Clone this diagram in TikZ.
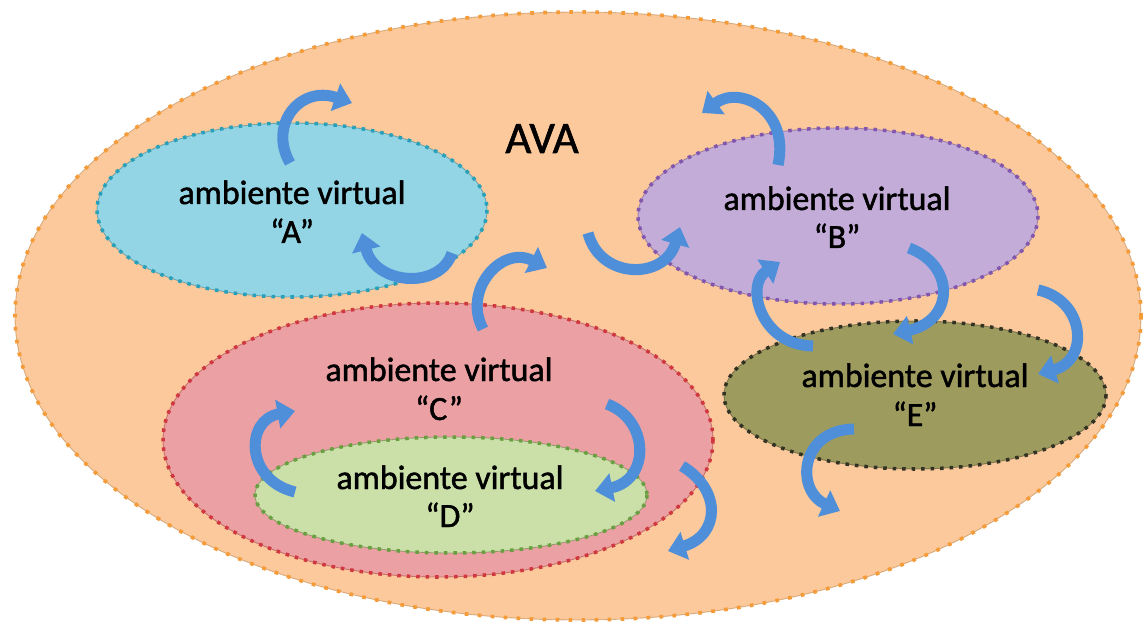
\documentclass[tikz,border=0pt]{standalone}
\usepackage{fontspec}
\setmainfont{Carlito}
\newfontfamily\envfont{Carlito}[FakeBold=1.4]
\usetikzlibrary{arrows.meta}
\definecolor{outerfill}{RGB}{251,201,156}
\definecolor{outerdot}{RGB}{245,155,55}
\definecolor{afill}{RGB}{147,213,228}
\definecolor{adot}{RGB}{40,160,185}
\definecolor{bfill}{RGB}{195,173,216}
\definecolor{bdot}{RGB}{130,85,175}
\definecolor{cfill}{RGB}{235,160,163}
\definecolor{cdot}{RGB}{208,55,62}
\definecolor{dfill}{RGB}{203,224,169}
\definecolor{ddot}{RGB}{105,158,65}
\definecolor{efill}{RGB}{158,155,94}
\definecolor{edot}{RGB}{50,50,35}
\definecolor{arrowblue}{RGB}{79,143,217}
\tikzset{
  edgeline/.style={line width=0.5pt, draw opacity=0.45},
  envdots/.style={line width=2pt, line cap=butt, dash pattern=on 2pt off 3.4pt},
  outerdots/.style={line width=2.1pt, line cap=butt, dash pattern=on 2.1pt off 5.3pt},
  envtext/.style={font=\envfont\fontsize{19.3}{22}\selectfont, anchor=base, inner sep=0pt, text=black},
  bluearrow/.style={draw=arrowblue, line width=6.3pt, line cap=butt,
    -{Triangle[width=16pt,length=10pt]}},
}
\begin{document}
\begin{tikzpicture}[x=0.02cm,y=-0.02cm]
\useasboundingbox (0,0) rectangle (1146,628);
% outer AVA
\fill[outerfill] (578,316) ellipse [x radius=563, y radius=304];
\draw[outerdot!70!black, edgeline] (578,316) ellipse [x radius=563, y radius=304];
\draw[outerdot, outerdots] (578,316) ellipse [x radius=563, y radius=304];
% A
\fill[afill] (292,210) ellipse [x radius=195, y radius=87];
\draw[adot!70!black, edgeline] (292,210) ellipse [x radius=195, y radius=87];
\draw[adot, envdots] (292,210) ellipse [x radius=195, y radius=87];
% B
\fill[bfill] (838,216) ellipse [x radius=200, y radius=88];
\draw[bdot!70!black, edgeline] (838,216) ellipse [x radius=200, y radius=88];
\draw[bdot, envdots] (838,216) ellipse [x radius=200, y radius=88];
% C
\fill[cfill] (438,440) ellipse [x radius=275, y radius=137];
\draw[cdot!70!black, edgeline] (438,440) ellipse [x radius=275, y radius=137];
\draw[cdot, envdots] (438,440) ellipse [x radius=275, y radius=137];
% D
\fill[dfill] (451,495) ellipse [x radius=196, y radius=58];
\draw[ddot!70!black, edgeline] (451,495) ellipse [x radius=196, y radius=58];
\draw[ddot, envdots] (451,495) ellipse [x radius=196, y radius=58];
% E
\fill[efill] (915,395) ellipse [x radius=191, y radius=74];
\draw[edot, edgeline] (915,395) ellipse [x radius=191, y radius=74];
\draw[edot, envdots] (915,395) ellipse [x radius=191, y radius=74];
% texts
\node[font=\envfont\fontsize{25.5}{30}\selectfont, anchor=base, inner sep=0pt] (ava) at (542,153) {AVA};
\node[envtext] (ta1) at (292,204) {ambiente virtual};
\node[envtext] (ta2) at (292,243) {“A”};
\node[envtext] (tb1) at (837,210) {ambiente virtual};
\node[envtext] (tb2) at (837,248) {“B”};
\node[envtext] (tc1) at (439,381) {ambiente virtual};
\node[envtext] (tc2) at (439,420) {“C”};
\node[envtext] (td1) at (450,489) {ambiente virtual};
\node[envtext] (td2) at (450,527) {“D”};
\node[envtext] (te1) at (915,387) {ambiente virtual};
\node[envtext] (te2) at (915,426) {“E”};
% arrows
\draw[bluearrow] (290,163) .. controls (268,125) and (300,85) .. (352,103);
\draw[bluearrow] (452,253) .. controls (440,290) and (375,285) .. (362,233);
\draw[bluearrow] (483,329) .. controls (462,290) and (502,245) .. (547,268);
\draw[bluearrow] (588,233) .. controls (600,280) and (665,280) .. (680,227);
\draw[bluearrow] (778,165) .. controls (790,110) and (740,85) .. (702,113);
\draw[bluearrow] (295,492) .. controls (245,480) and (245,420) .. (295,411);
\draw[bluearrow] (607,404) .. controls (650,420) and (650,480) .. (595,491);
\draw[bluearrow] (682,466) .. controls (722,490) and (720,535) .. (668,551);
\draw[bluearrow] (854,429) .. controls (800,430) and (795,490) .. (840,511);
\draw[bluearrow] (813,346) .. controls (760,345) and (745,285) .. (780,262);
\draw[bluearrow] (909,248) .. controls (955,265) and (955,320) .. (893,334);
\draw[bluearrow] (1038,290) .. controls (1085,300) and (1090,360) .. (1038,374);
\end{tikzpicture}
\end{document}
